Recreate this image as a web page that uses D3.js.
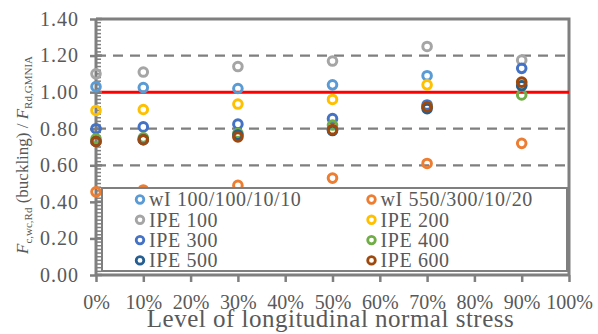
<!DOCTYPE html>
<html>
<head>
<meta charset="utf-8">
<script src="https://cdn.jsdelivr.net/npm/d3@7"></script>
<style>
  body { margin: 0; background: #fff; }
  svg text { font-family: "Liberation Serif", serif !important; fill: #595959; }
</style>
</head>
<body>
<svg id="viz" width="598" height="334"></svg>
<script>
/** ---------- data ---------- */
const stressLevels = [0, 0.1, 0.3, 0.5, 0.7, 0.9];
const xTicks = d3.range(0, 1.0001, 0.1);
const yTicks = [0, 0.2, 0.4, 0.6, 0.8, 1.0, 1.2, 1.4];
const gridLevels = [0.2, 0.4, 0.6, 0.8, 1.2];
const refLevel = 1.0;

const seriesNames = [
  "wI 100/100/10/10", "wI 550/300/10/20",
  "IPE 100", "IPE 200", "IPE 300", "IPE 400", "IPE 500", "IPE 600"
];
const seriesColors = [
  "#5B9BD5", "#ED7D31", "#A5A5A5", "#FFC000",
  "#4472C4", "#70AD47", "#255E91", "#9E480E"
];
const wI100 = [1.03, 1.025, 1.02, 1.04, 1.09, 1.04];
const wI550 = [0.455, 0.465, 0.49, 0.53, 0.61, 0.72];
const ipe100 = [1.10, 1.11, 1.14, 1.17, 1.25, 1.175];
const ipe200 = [0.90, 0.905, 0.935, 0.96, 1.04, 1.05];
const ipe300 = [0.80, 0.81, 0.825, 0.855, 0.93, 1.13];
const ipe400 = [0.745, 0.75, 0.775, 0.82, 0.92, 0.985];
const ipe500 = [0.73, 0.74, 0.765, 0.79, 0.91, 1.035];
const ipe600 = [0.73, 0.74, 0.755, 0.795, 0.92, 1.055];
const seriesValues = [wI100, wI550, ipe100, ipe200, ipe300, ipe400, ipe500, ipe600];

/** ---------- layout ---------- */
const svg = d3.select("#viz");
const mLeft = 96, mRight = 569, mTop = 19, mBottom = 275;
const axisGray = "#7F7F7F";
const serif = "'Liberation Serif', serif";

const x = d3.scaleLinear().domain([0, 1]).range([mLeft, mRight]);
const y = d3.scaleLinear().domain([0, 1.4]).range([mBottom, mTop]);

// dashed gridlines
svg.append("g").selectAll("line")
  .data(gridLevels)
  .join("line")
  .attr("x1", mLeft).attr("x2", mRight)
  .attr("y1", d => y(d)).attr("y2", d => y(d))
  .attr("stroke", axisGray)
  .attr("stroke-width", 2.2)
  .attr("stroke-dasharray", "10,7");

// frame (top / right)
svg.append("path")
  .attr("d", `M${mLeft},${mTop}H${mRight}V${mBottom}`)
  .attr("fill", "none")
  .attr("stroke", axisGray)
  .attr("stroke-width", 3);

// reference line
svg.append("line")
  .attr("x1", mLeft).attr("x2", mRight)
  .attr("y1", y(refLevel)).attr("y2", y(refLevel))
  .attr("stroke", "#FF0000")
  .attr("stroke-width", 3);

// y axis
const yAxis = svg.append("g")
  .attr("transform", `translate(${mLeft},0)`)
  .call(d3.axisLeft(y).tickValues(yTicks).tickFormat(d3.format(".2f")).tickSize(6).tickPadding(11));
// minor ticks (inside)
svg.append("g").selectAll("line")
  .data(d3.range(0, 1.4001, 0.02))
  .join("line")
  .attr("x1", mLeft).attr("x2", mLeft + 5)
  .attr("y1", d => y(d)).attr("y2", d => y(d))
  .attr("stroke", axisGray)
  .attr("stroke-width", 1.5);
// major ticks cross the axis
svg.append("g").selectAll("line")
  .data(yTicks)
  .join("line")
  .attr("x1", mLeft).attr("x2", mLeft + 6)
  .attr("y1", d => y(d)).attr("y2", d => y(d))
  .attr("stroke", axisGray)
  .attr("stroke-width", 2.5);

// x axis
const xAxis = svg.append("g")
  .attr("transform", `translate(0,${mBottom})`)
  .call(d3.axisBottom(x).tickValues(xTicks).tickFormat(d3.format(".0%")).tickSize(7).tickPadding(13));

for (const ax of [xAxis, yAxis]) {
  ax.attr("font-family", null).attr("font-size", null);
  ax.select(".domain").attr("stroke", axisGray).attr("stroke-width", 3);
  ax.selectAll(".tick line").attr("stroke", axisGray).attr("stroke-width", 2.5);
  ax.selectAll(".tick text")
    .style("font-family", serif)
    .style("font-size", "20px")
    .style("fill", "#595959");
}
yAxis.selectAll(".tick text").style("letter-spacing", "1px");
yAxis.select(".domain").attr("d", `M0,${mBottom}V${mTop}`);
xAxis.select(".domain").attr("d", `M${mLeft},0H${mRight}`);

// points
const pointLayer = svg.append("g");
seriesValues.forEach((vals, si) => {
  pointLayer.append("g").selectAll("circle")
    .data(vals.map((v, i) => ({ s: stressLevels[i], v })))
    .join("circle")
    .attr("cx", d => x(d.s))
    .attr("cy", d => y(d.v))
    .attr("r", 4.3)
    .attr("fill", "none")
    .attr("stroke", seriesColors[si])
    .attr("stroke-width", 3);
});

// legend
const lg = svg.append("g");
lg.append("rect")
  .attr("x", 102).attr("y", 188)
  .attr("width", 465).attr("height", 83)
  .attr("fill", "#fff")
  .attr("stroke", axisGray)
  .attr("stroke-width", 2);

const item = lg.selectAll("g.item")
  .data(seriesNames.map((name, i) => ({ name, color: seriesColors[i], col: i % 2, row: Math.floor(i / 2) })))
  .join("g")
  .attr("class", "item")
  .attr("transform", d => `translate(${d.col ? 371.5 : 140},${199.5 + d.row * 20.3})`);

item.append("circle")
  .attr("r", 3.8)
  .attr("fill", "none")
  .attr("stroke", d => d.color)
  .attr("stroke-width", 2.8);

item.append("text")
  .attr("x", 9)
  .attr("dy", "0.34em")
  .style("font-family", serif)
  .style("font-size", "20px")
  .style("letter-spacing", "0.6px")
  .text(d => d.name);

// axis titles
svg.append("text")
  .attr("x", (mLeft + mRight) / 2 - 2)
  .attr("y", 327)
  .attr("text-anchor", "middle")
  .style("font-family", serif)
  .style("font-size", "25px")
  .style("letter-spacing", "0.5px")
  .text("Level of longitudinal normal stress");

const yt = svg.append("text")
  .attr("transform", `translate(28,155) rotate(-90)`)
  .attr("text-anchor", "middle")
  .style("font-family", serif)
  .style("font-size", "17px");
yt.append("tspan").attr("font-style", "italic").text("F");
yt.append("tspan").style("font-size", "11px").attr("dy", 4).text("c,wc,Rd");
yt.append("tspan").attr("dy", -4).text(" (buckling) / ");
yt.append("tspan").attr("font-style", "italic").text("F");
yt.append("tspan").style("font-size", "11px").attr("dy", 4).text("Rd,GMNIA");
</script>
</body>
</html>
